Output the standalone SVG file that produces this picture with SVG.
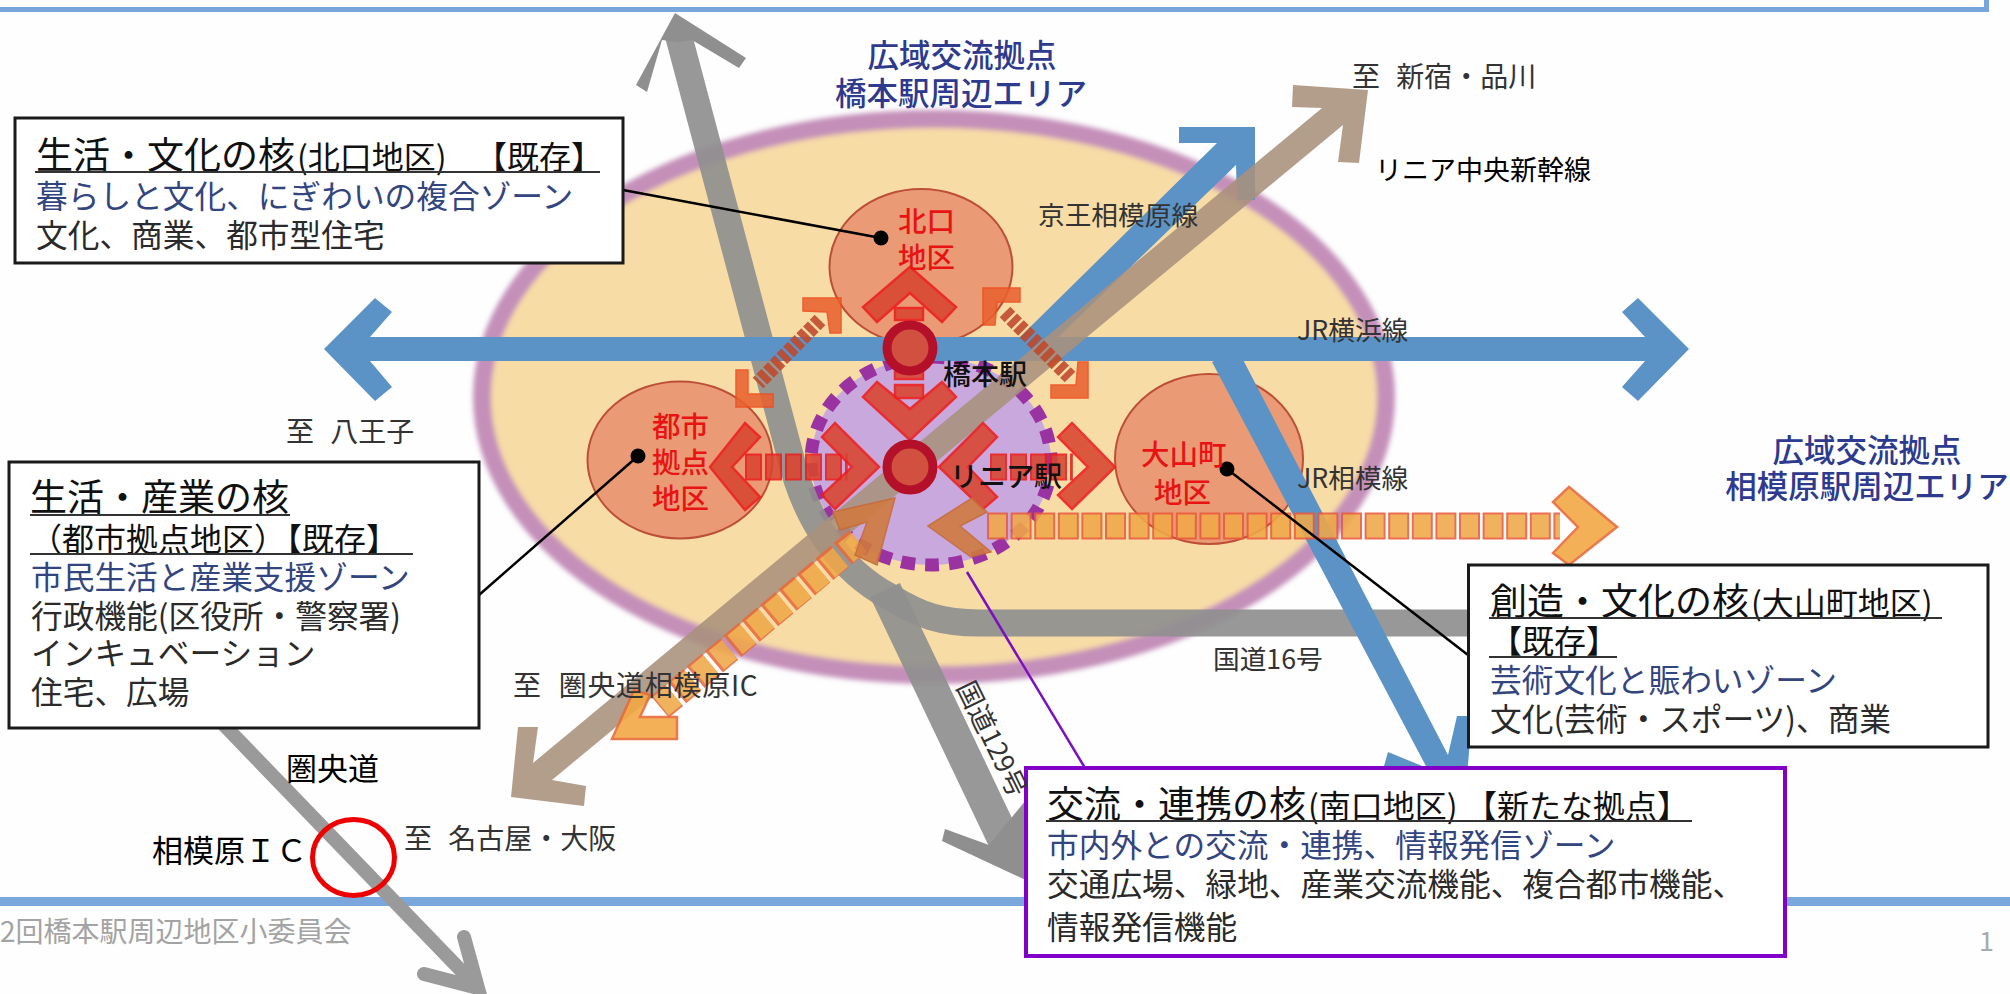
<svg xmlns="http://www.w3.org/2000/svg" width="2010" height="994" viewBox="0 0 2010 994">
<defs>
<filter id="soft" x="-5%" y="-5%" width="110%" height="110%"><feGaussianBlur stdDeviation="2.5"/></filter>
</defs>
<style>
text{font-family:"Noto Sans CJK JP","Noto Sans",sans-serif;fill:#2b2b2b}
.box{fill:#fff;stroke:#1a1a1a;stroke-width:3}
.pbox{fill:#fff;stroke:#8000c8;stroke-width:4}
.t{font-size:37px;fill:#111}
.ts{font-size:32px}
.t2{font-size:32px;fill:#111}
.b{font-size:31.700px;fill:#33457f}
.n{font-size:31.700px;fill:#2a2a2a}
.ul{stroke:#333;stroke-width:2;fill:none}
.area{font-size:31.500px;fill:#2d3a8e;font-weight:500}
.lab{font-size:26.700px;fill:#333}
.to{font-size:28px;fill:#333}
.blk{font-size:31px;fill:#000}
.red{font-size:28.500px;fill:#e81414;font-weight:500}
.stn{font-size:28px;fill:#111;font-weight:500}
.blue{fill:#5b93c7;stroke:none}
.tan{fill:#a8917c;opacity:.88}
.gray{fill:none;stroke:#8f8f8f;opacity:.92}
.dist{fill:#ea9b75;stroke:#bd4f38;stroke-width:2}
.chev{fill:#d8452f;stroke:#ee1c1c;stroke-width:2.500;opacity:.88}
.chevc{fill:#e9622f;stroke:#ee4c1c;stroke-width:1.500;opacity:.88}
.chevo{fill:#f4a844;stroke:#ea6a38;stroke-width:2.500;opacity:.9}
.chevb{fill:#cf7a40;stroke:#c86a38;stroke-width:1.500;opacity:.9}
.ln{stroke:#000;stroke-width:2.500;fill:none}
.st{fill:#d2503f;stroke:#b5102a;stroke-width:9}
</style>
<rect width="2010" height="994" fill="#fefefe"/>
<g id="frame">
<path d="M0 9.500H1986.500V0" fill="none" stroke="#78a6dc" stroke-width="5"/>
<rect x="0" y="897" width="1030" height="9" fill="#7aa8dc"/>
<rect x="1785" y="897" width="225" height="9" fill="#7aa8dc"/>
</g>
<g id="area-ellipse">
<ellipse cx="934" cy="397" rx="452" ry="278" fill="#f8dca6" stroke="#c48fb9" stroke-width="18" filter="url(#soft)"/>
</g>
<g id="district-kitaguchi"><ellipse class="dist" cx="921" cy="267" rx="91.500" ry="78"/></g>
<g id="district-toshi"><ellipse class="dist" cx="680" cy="460" rx="92.500" ry="78.500"/></g>
<g id="district-oyama"><ellipse class="dist" cx="1209" cy="459" rx="94" ry="85"/></g>
<g id="district-minamiguchi"><ellipse cx="931" cy="461" rx="120" ry="104" fill="#c9a9dd" stroke="#9a32a2" stroke-width="13" stroke-dasharray="14 10"/></g>
<g id="connectors">
<g id="roads">
<path class="gray" stroke-width="27" d="M677 30L790 455C805 520 840 570 890 597C920 615 940 623 980 623L1470 623"/>
<path class="gray" stroke-width="33" d="M885 590L1008 848"/>
<polygon points="675,13 746,58 739,68 692,40 678,42 662,40 647,92 636,85" fill="#8f8f8f"/>
<polygon points="945,829 989,845 1026,800 1040,800 1030,882 942,841" fill="#8f8f8f"/>
</g>
<g id="rail-lines">
<polygon class="blue" points="370,337 1645,337 1622,312 1638,298 1689,349 1638,401 1622,387 1645,361 370,361 392,387 375,401 324,349 375,298 392,312"/>
<polygon class="blue" points="1020,337 1217,143 1179,143 1179,127 1255,127 1255,200 1237,200 1236,165 1050,345"/>
<polygon class="blue" points="1212,362 1238,350 1448,755 1457,716 1472,716 1465,800 1445,800 1384,766 1388,752 1427,768"/>
<polygon class="tan" points="1343,125 1338,162 1359,163 1368,90 1293,85 1292,107 1322,108 533,763 538,727 518,727 511,797 584,806 586,786 552,780"/>
</g>
<g id="link-arrows">
<polygon class="chev" points="910,267 956,307 942,322 910,293 877,322 863,307"/>
<rect class="chev" x="895" y="308" width="28" height="12"/>
<rect class="chev" x="895" y="372" width="28" height="7"/>
<rect class="chev" x="895" y="385" width="28" height="13"/>
<polygon class="chev" points="910,440 956,397 942,382 910,409 877,382 863,397"/>
<g opacity=".88" fill="none">
<path d="M745 467H848" stroke="#ee1c1c" stroke-width="27" stroke-dasharray="17 3"/>
<path d="M747 467H848" stroke="#d8452f" stroke-width="23" stroke-dasharray="13 7"/>
<path d="M990 467H1073" stroke="#ee1c1c" stroke-width="27" stroke-dasharray="17 3"/>
<path d="M992 467H1073" stroke="#d8452f" stroke-width="23" stroke-dasharray="13 7"/>
<path d="M820 320L758 383" stroke="#c0482a" stroke-width="15" stroke-dasharray="7 2.500"/>
<path d="M1005 312L1070 377" stroke="#c0482a" stroke-width="15" stroke-dasharray="7 2.500"/>
<path d="M987 526H1560" stroke="#ea5a3c" stroke-width="27" stroke-dasharray="21 2.600"/>
<path d="M989 526H1560" stroke="#f0a848" stroke-width="23" stroke-dasharray="17 6.600"/>
<path d="M858 541L660 707" stroke="#e86a3c" stroke-width="28" stroke-dasharray="20 4"/>
<path d="M859 542L660 707" stroke="#f0a848" stroke-width="24" stroke-dasharray="17 7"/>
</g>
<polygon class="chev" points="710,467 745,423 760,437 732,467 760,497 745,510"/>
<polygon class="chev" points="879,467 835,423 822,437 852,467 822,495 835,509"/>
<polygon class="chev" points="939,467 983,423 997,437 968,467 997,497 983,509"/>
<polygon class="chev" points="1115,467 1072,423 1058,437 1088,467 1058,495 1072,509"/>
<polygon class="chevc" points="803,298 841,298 841,333 830,333 827,312 803,311"/>
<polygon class="chevc" points="736,370 748,370 748,394 773,394 773,407 736,407"/>
<polygon class="chevc" points="983,288 1020,288 1020,302 997,302 995,325 983,325"/>
<polygon class="chevc" points="1088,362 1088,398 1051,398 1051,385 1076,385 1078,362"/>
<polygon class="chevb" points="928,526 972,498 987,512 960,526 991,552 971,557"/>
<polygon class="chevo" points="1617,527 1569,487 1553,502 1578,527 1553,553 1569,565"/>
<polygon class="chevb" points="895,498 877,565 855,555 867,522 840,530 833,512"/>
<polygon class="chevo" points="612,739 677,739 677,717 640,717 650,695 634,690"/>
</g>
<g id="leaders">
<path class="ln" d="M623 190L881 238"/>
<path class="ln" d="M479 595L638 456"/>
<path class="ln" d="M1468 655L1227 469"/>
<path d="M967 572L1085 768" fill="none" stroke="#7a10c0" stroke-width="2.500"/>
<circle cx="881" cy="238" r="7.500" fill="#000"/>
<circle cx="638" cy="456" r="7.500" fill="#000"/>
<circle cx="1227" cy="469" r="7.500" fill="#000"/>
</g>
<g id="ken-o-do" fill="none" stroke="#9a9a9a" stroke-width="14">
<path d="M223 724L476 986"/>
<path stroke-linecap="round" d="M464 937L478 988L424 974"/>
</g>
</g>
<g id="station-hashimoto"><circle class="st" cx="910" cy="348" r="23"/><text class="stn" x="943" y="385">橋本駅</text></g>
<g id="station-linear"><circle class="st" cx="910" cy="467" r="23"/><text class="stn" x="950" y="487">リニア駅</text></g>
<g id="ic-marker"><ellipse cx="353.500" cy="857.500" rx="41" ry="38" fill="none" stroke="#ee0000" stroke-width="5"/></g>
<g id="node-kitaguchi">
<rect class="box" x="15" y="118" width="608" height="145"/>
<text class="t" x="36" y="169">生活・文化の核<tspan class="ts" dx="2">(北口地区)</tspan></text>
<text class="t2" x="475" y="169">【既存】</text>
<path class="ul" d="M35 172H600"/>
<text class="b" x="36" y="208">暮らしと文化、にぎわいの複合ゾーン</text>
<text class="n" x="36" y="247">文化、商業、都市型住宅</text>
</g>
<g id="node-toshi">
<rect class="box" x="9" y="462" width="470" height="266"/>
<text class="t" x="30" y="511">生活・産業の核</text>
<path class="ul" d="M30 515H290"/>
<text class="t2" x="30" y="551">（都市拠点地区）【既存】</text>
<path class="ul" d="M30 554H413"/>
<text class="b" x="31" y="589">市民生活と産業支援ゾーン</text>
<text class="n" x="31" y="628">行政機能(区役所・警察署)</text>
<text class="n" x="31" y="665">インキュベーション</text>
<text class="n" x="31" y="704">住宅、広場</text>
</g>
<g id="node-oyama">
<rect class="box" x="1468.500" y="565" width="519.500" height="182"/>
<text class="t" x="1490" y="615">創造・文化の核<tspan class="ts" dx="2">(大山町地区)</tspan></text>
<path class="ul" d="M1489 618H1942"/>
<text class="t2" x="1490" y="653">【既存】</text>
<path class="ul" d="M1489 657H1617"/>
<text class="b" x="1490" y="692">芸術文化と賑わいゾーン</text>
<text class="n" x="1490" y="731">文化(芸術・スポーツ)、商業</text>
</g>
<g id="node-minamiguchi">
<rect class="pbox" x="1026" y="768" width="759" height="188"/>
<text class="t" x="1047" y="818">交流・連携の核<tspan class="ts" dx="2">(南口地区)</tspan></text>
<text class="t2" x="1465" y="818">【新たな拠点】</text>
<path class="ul" d="M1046 821H1692"/>
<text class="b" x="1047" y="857">市内外との交流・連携、情報発信ゾーン</text>
<text class="n" x="1047" y="896">交通広場、緑地、産業交流機能、複合都市機能、</text>
<text class="n" x="1047" y="939">情報発信機能</text>
</g>
<g id="labels">
<text class="area" text-anchor="middle" x="962" y="67">広域交流拠点</text>
<text class="area" text-anchor="middle" x="961" y="105">橋本駅周辺エリア</text>
<text class="area" text-anchor="middle" x="1867" y="462">広域交流拠点</text>
<text class="area" text-anchor="middle" x="1867" y="498">相模原駅周辺エリア</text>
<text class="to" x="286" y="442">至 <tspan dx="10">八王子</tspan></text>
<text class="to" x="1352" y="87">至 <tspan dx="10">新宿・品川</tspan></text>
<text class="blk" x="1375" y="180" style="font-size:27px">リニア中央新幹線</text>
<text class="lab" x="1038" y="225">京王相模原線</text>
<text class="lab" x="1297" y="340">JR横浜線</text>
<text class="lab" x="1297" y="488">JR相模線</text>
<text class="red" x="652" y="437">都市</text>
<text class="red" x="652" y="473">拠点</text>
<text class="red" x="652" y="509">地区</text>
<text class="red" x="898" y="232">北口</text>
<text class="red" x="898" y="268">地区</text>
<text class="red" x="1141" y="465">大山町</text>
<text class="red" x="1154" y="503">地区</text>
<text class="to" x="513" y="696" style="letter-spacing:.7px">至 <tspan dx="10">圏央道相模原IC</tspan></text>
<text class="blk" x="286" y="780">圏央道</text>
<text class="blk" x="152" y="862">相模原ＩＣ</text>
<text class="to" x="404" y="849">至 <tspan dx="10">名古屋・大阪</tspan></text>
<text class="lab" x="1213" y="669">国道16号</text>
<text class="lab" transform="translate(956 687) rotate(64)">国道129号</text>
<text x="0" y="942" style="font-size:28px;fill:#a3a3a3">2回橋本駅周辺地区小委員会</text>
<text x="1979" y="951" style="font-size:27px;fill:#aaa">1</text>
</g>
</svg>
